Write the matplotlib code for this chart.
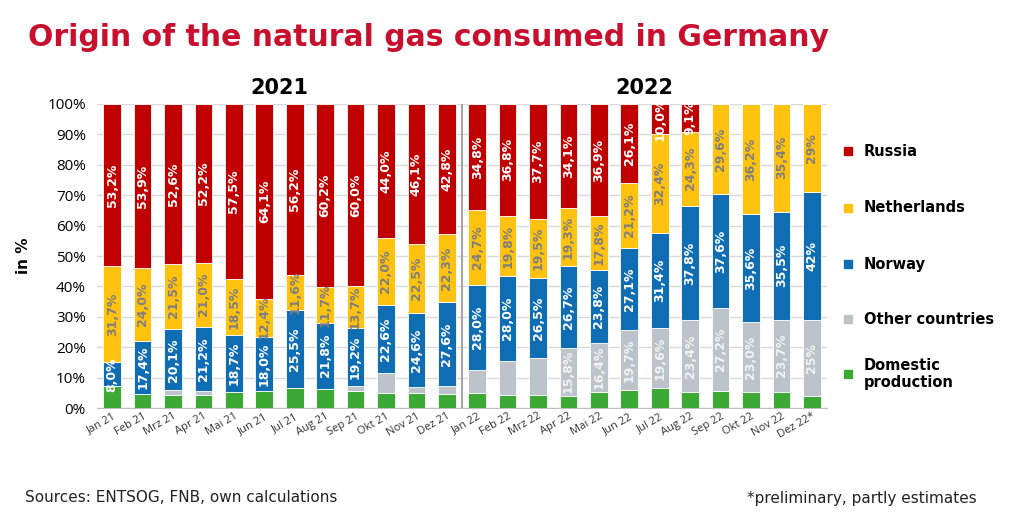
import numpy as np
import matplotlib
matplotlib.use('Agg')
import matplotlib.pyplot as plt
from matplotlib.patches import Rectangle

months = ['Jan 21', 'Feb 21', 'Mrz 21', 'Apr 21', 'Mai 21', 'Jun 21', 'Jul 21', 'Aug 21',
          'Sep 21', 'Okt 21', 'Nov 21', 'Dez 21',
          'Jan 22', 'Feb 22', 'Mrz 22', 'Apr 22', 'Mai 22', 'Jun 22', 'Jul 22', 'Aug 22',
          'Sep 22', 'Okt 22', 'Nov 22', 'Dez 22*']

# shares in %, bottom to top
domestic = [7.1, 4.7, 4.3, 4.4, 5.3, 5.5, 6.7, 6.3, 5.7, 4.9, 4.9, 4.7,
            4.9, 4.4, 4.4, 4.1, 5.1, 5.9, 6.6, 5.4, 5.6, 5.2, 5.4, 4.0]
other = [0.0, 0.0, 1.5, 1.2, 0.0, 0.0, 0.0, 0.0, 1.4, 6.5, 1.9, 2.6,
         7.6, 11.0, 11.9, 15.8, 16.4, 19.7, 19.6, 23.4, 27.2, 23.0, 23.7, 25.0]
norway = [8.0, 17.4, 20.1, 21.2, 18.7, 18.0, 25.5, 21.8, 19.2, 22.6, 24.6, 27.6,
          28.0, 28.0, 26.5, 26.7, 23.8, 27.1, 31.4, 37.8, 37.6, 35.6, 35.5, 42.0]
netherlands = [31.7, 24.0, 21.5, 21.0, 18.5, 12.4, 11.6, 11.7, 13.7, 22.0, 22.5, 22.3,
               24.7, 19.8, 19.5, 19.3, 17.8, 21.2, 32.4, 24.3, 29.6, 36.2, 35.4, 29.0]
russia = [53.2, 53.9, 52.6, 52.2, 57.5, 64.1, 56.2, 60.2, 60.0, 44.0, 46.1, 42.8,
          34.8, 36.8, 37.7, 34.1, 36.9, 26.1, 10.0, 9.1, 0.0, 0.0, 0.0, 0.0]
estimate = [False] * 23 + [True]

series = [
    ('Domestic\nproduction', domestic, '#3DA935', None),
    ('Other countries', other, '#BDC3CA', '#F2F2F2'),
    ('Norway', norway, '#0F6DB4', 'white'),
    ('Netherlands', netherlands, '#FFC20E', '#7F7F7F'),
    ('Russia', russia, '#C00000', 'white'),
]
other_label_from = 15  # "other countries" shares only labelled from Apr 22 on

def fmt(v, est):
    if est:
        return '{:.0f}%'.format(v)
    return '{:.1f}%'.format(v).replace('.', ',')

fig = plt.figure(figsize=(10.24, 5.18), dpi=100)
ax = fig.add_axes([97/1024, 110/518, 730/1024, 304/518])

x = np.arange(len(months))
bottom = np.zeros(len(months))
for name, vals, col, tcol in series:
    vals = np.array(vals)
    ax.bar(x, vals, 0.58, bottom=bottom, color=col, edgecolor='white',
           linewidth=0.6, zorder=3, label=name)
    if tcol is not None:
        for i, v in enumerate(vals):
            if v <= 0:
                continue
            if name == 'Other countries' and i < other_label_from:
                continue
            ax.text(x[i], bottom[i] + v / 2, fmt(v, estimate[i]), rotation=90,
                    ha='center', va='center', color=tcol, fontsize=9,
                    fontweight='bold', family=['Liberation Sans Narrow', 'DejaVu Sans'],
                    zorder=4)
    bottom += vals

ax.set_xlim(-0.5, len(months) - 0.5)
ax.set_ylim(0, 100)
ax.set_yticks(np.arange(0, 101, 10))
ax.set_yticklabels(['{}%'.format(v) for v in range(0, 101, 10)], fontsize=11,
                   family='Open Sans')
ax.yaxis.grid(True, color='#D9D9D9', linewidth=1, zorder=0)
ax.tick_params(axis='y', length=0, pad=8)
ax.tick_params(axis='x', length=0, pad=2)
ax.set_xticks(x)
ax.set_xticklabels(months, rotation=30, ha='right', rotation_mode='anchor',
                   fontsize=8, family='Open Sans', color='#333333')
for s in ['top', 'right', 'left']:
    ax.spines[s].set_visible(False)
ax.spines['bottom'].set_color('#BFBFBF')
ax.axvline(11.5, color='#A6A6A6', linewidth=1.5, zorder=2)

ax.set_ylabel('in %', fontsize=11, fontweight='bold', labelpad=12)
ax.text(5.5, 102, '2021', ha='center', va='bottom', fontsize=15, fontweight='bold')
ax.text(17.5, 102, '2022', ha='center', va='bottom', fontsize=15, fontweight='bold')

fig.text(28/1024, 1 - 38/518, 'Origin of the natural gas consumed in Germany',
         fontsize=21.5, fontweight='bold', color='#C8102E', va='center', ha='left')

# legend, top entry first
legend_y = [151, 208, 264, 319, 374]
for (name, vals, col, tcol), ly in zip(series[::-1], legend_y):
    fig.add_artist(Rectangle(((848 - 4) / 1024, 1 - (ly + 4) / 518), 8 / 1024, 8 / 518,
                             transform=fig.transFigure, color=col))
    fig.text(864 / 1024, 1 - ly / 518, name, fontsize=10.5, fontweight='bold',
             va='center', ha='left', linespacing=1.2)

fig.text(25/1024, 1 - 498/518, 'Sources: ENTSOG, FNB, own calculations',
         fontsize=11, va='center', ha='left', color='#222222')
fig.text(977/1024, 1 - 498/518, '*preliminary, partly estimates',
         fontsize=11, va='center', ha='right', color='#222222')

fig.savefig('out.png', dpi=100)
